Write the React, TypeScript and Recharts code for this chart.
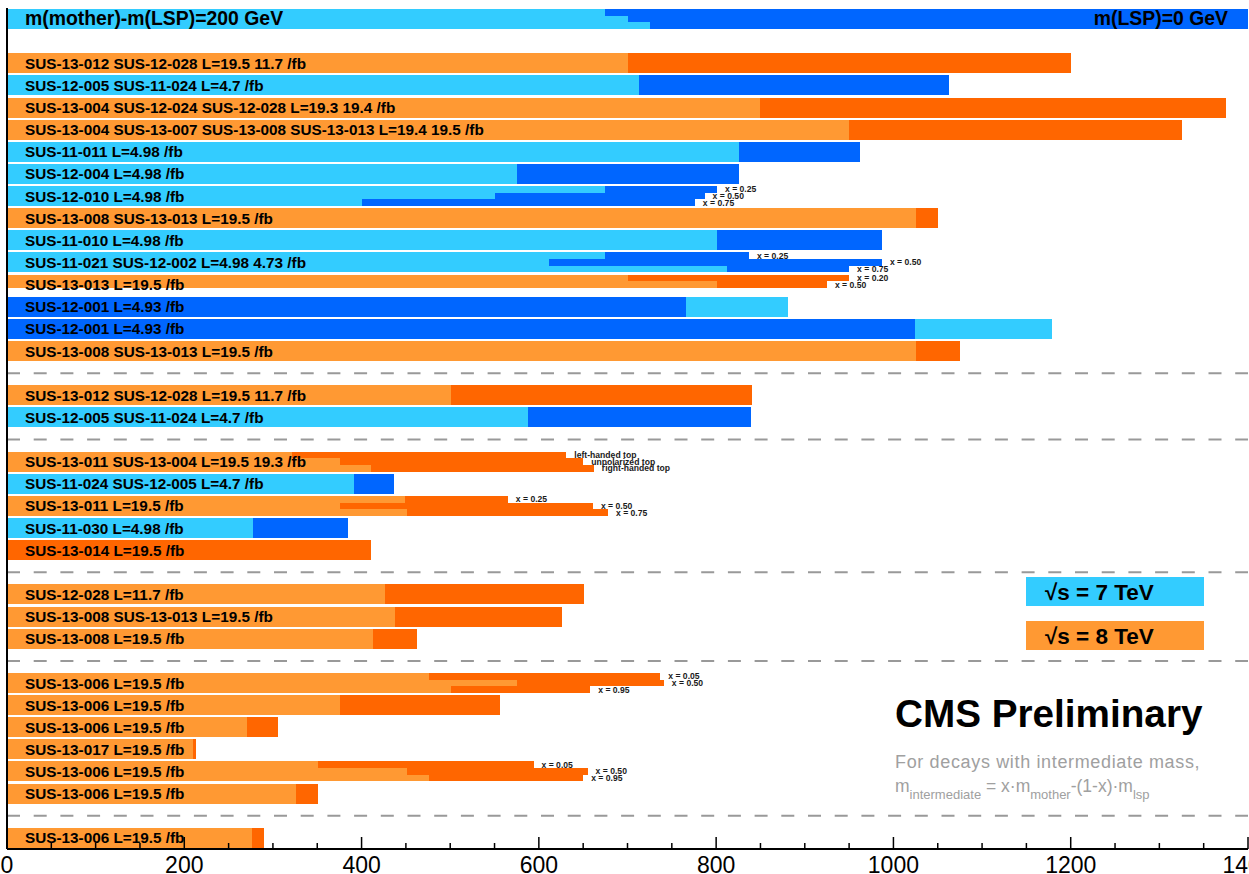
import React from 'react';
import { BarChart, Bar, XAxis, YAxis, ReferenceLine } from 'recharts';

const FONT = '"Liberation Sans", Arial, Helvetica, sans-serif';

// 38 rows, top to bottom ('' = blank / separator row)
const rowLabels: string[] = [
  'm(mother)-m(LSP)=200 GeV',
  '',
  'SUS-13-012 SUS-12-028 L=19.5 11.7 /fb',
  'SUS-12-005 SUS-11-024 L=4.7 /fb',
  'SUS-13-004 SUS-12-024 SUS-12-028 L=19.3 19.4 /fb',
  'SUS-13-004 SUS-13-007 SUS-13-008 SUS-13-013 L=19.4 19.5 /fb',
  'SUS-11-011 L=4.98 /fb',
  'SUS-12-004 L=4.98 /fb',
  'SUS-12-010 L=4.98 /fb',
  'SUS-13-008 SUS-13-013 L=19.5 /fb',
  'SUS-11-010 L=4.98 /fb',
  'SUS-11-021 SUS-12-002 L=4.98 4.73 /fb',
  'SUS-13-013 L=19.5 /fb',
  'SUS-12-001 L=4.93 /fb',
  'SUS-12-001 L=4.93 /fb',
  'SUS-13-008 SUS-13-013 L=19.5 /fb',
  '',
  'SUS-13-012 SUS-12-028 L=19.5 11.7 /fb',
  'SUS-12-005 SUS-11-024 L=4.7 /fb',
  '',
  'SUS-13-011 SUS-13-004 L=19.5 19.3 /fb',
  'SUS-11-024 SUS-12-005 L=4.7 /fb',
  'SUS-13-011 L=19.5 /fb',
  'SUS-11-030 L=4.98 /fb',
  'SUS-13-014 L=19.5 /fb',
  '',
  'SUS-12-028 L=11.7 /fb',
  'SUS-13-008 SUS-13-013 L=19.5 /fb',
  'SUS-13-008 L=19.5 /fb',
  '',
  'SUS-13-006 L=19.5 /fb',
  'SUS-13-006 L=19.5 /fb',
  'SUS-13-006 L=19.5 /fb',
  'SUS-13-017 L=19.5 /fb',
  'SUS-13-006 L=19.5 /fb',
  'SUS-13-006 L=19.5 /fb',
  '',
  'SUS-13-006 L=19.5 /fb',
];

// centre-of-mass energy (TeV) of each row, 0 = no bar
const rowEnergy: number[] = [
  7, 0, 8, 7, 8, 8, 7, 7, 7, 8, 7, 7, 8, 7, 7, 8, 0, 8, 7, 0,
  8, 7, 8, 7, 8, 0, 8, 8, 8, 0, 8, 8, 8, 8, 8, 8, 0, 8,
];

// mass limits (GeV) for m(mother)-m(LSP)=200 GeV, one entry per sub-row
const limitDM200: number[][] = [
  [675, 700, 725], [], [700], [713], [850], [950], [826], [575],
  [675, 550, 400], [1025], [801], [675, 612, 812], [700, 801, NaN],
  [881], [1179], [1025], [], [501], [588], [],
  [321, 376, 411], [391], [449, 376, 451], [277], [0], [],
  [426], [438], [413], [],
  [476, 575, 501], [376], [271], [210], [351, 451, 476], [326], [], [276],
];

// mass limits (GeV) for m(LSP)=0 GeV, one entry per sub-row
const limitLSP0: number[][] = [
  [1400, 1400, 1400], [], [1200], [1063], [1375], [1325], [962], [826],
  [801, 787, 776], [1050], [987], [837, 987, 950], [950, 925, NaN],
  [766], [1024], [1075], [], [840], [839], [],
  [631, 650, 662], [437], [565, 661, 678], [385], [411], [],
  [651], [626], [462], [],
  [737, 741, 658], [556], [306], [213], [594, 655, 650], [351], [], [290],
];

const subRowTags: Record<number, string[]> = {
  8: ['x = 0.25', 'x = 0.50', 'x = 0.75'],
  11: ['x = 0.25', 'x = 0.50', 'x = 0.75'],
  12: ['x = 0.20', 'x = 0.50', ''],
  20: ['left-handed top', 'unpolarized top', 'right-handed top'],
  22: ['x = 0.25', 'x = 0.50', 'x = 0.75'],
  30: ['x = 0.05', 'x = 0.50', 'x = 0.95'],
  34: ['x = 0.05', 'x = 0.50', 'x = 0.95'],
};

const headerRightLabel = 'm(LSP)=0 GeV';
const separatorRows = ['16', '19', '25', '29', '36'];

const xTicks = [
  0, 50, 100, 150, 200, 250, 300, 350, 400, 450, 500, 550, 600, 650, 700,
  750, 800, 850, 900, 950, 1000, 1050, 1100, 1150, 1200, 1250, 1300, 1350, 1400,
];
const xTickLabels: Record<number, string> = {
  0: '0', 200: '200', 400: '400', 600: '600', 800: '800', 1000: '1000', 1200: '1200', 1400: '1400',
};

const legendLabels = ['s = 7 TeV', 's = 8 TeV'];
const legendEnergies = [7, 8];

const COLORS: Record<number, { light: string; dark: string }> = {
  7: { light: '#33CCFF', dark: '#0066FF' },
  8: { light: '#FF9933', dark: '#FF6600' },
  0: { light: '#FFFFFF', dark: '#FFFFFF' },
};

type Box = { lo: number; hi: number; color: string; sub: number; nsub: number; tag: string; right: string };

const rows = rowLabels.map((label, i) => {
  const c = COLORS[rowEnergy[i]];
  const a = limitDM200[i];
  const b = limitLSP0[i];
  const n = a.length;
  const boxes: Box[] = [];
  for (let s = 0; s < n; s++) {
    const l = a[s];
    const d = b[s];
    if (!Number.isFinite(l) || !Number.isFinite(d)) {
      boxes.push({ lo: 0, hi: 0, color: c.light, sub: s, nsub: n, tag: '', right: '' });
      boxes.push({ lo: 0, hi: 0, color: c.dark, sub: s, nsub: n, tag: '', right: '' });
      continue;
    }
    const lightSmaller = l <= d;
    const small = Math.min(l, d);
    const big = Math.max(l, d);
    boxes.push({ lo: 0, hi: small, color: lightSmaller ? c.light : c.dark, sub: s, nsub: n, tag: '', right: '' });
    boxes.push({
      lo: small,
      hi: big,
      color: lightSmaller ? c.dark : c.light,
      sub: s,
      nsub: n,
      tag: (subRowTags[i] && subRowTags[i][s]) || '',
      right: i === 0 && s === n - 1 ? headerRightLabel : '',
    });
  }
  return { key: String(i), label, boxes };
});

const BoxShape = (props: any) => {
  const { x, y, width, height, boxIndex } = props;
  const payload = props.payload && props.payload.boxes ? props.payload : rows[props.index];
  const box: Box | undefined = payload && payload.boxes[boxIndex];
  if (!box || !(width > 0)) return <g />;
  const h = height / box.nsub;
  const y0 = y + box.sub * h;
  return (
    <g>
      <rect x={x} y={y0} width={width} height={h} fill={box.color} shapeRendering="crispEdges" />
      {box.tag ? (
        <text x={x + width + 8} y={y0 + h / 2 + 3} fontSize={8.6} fontWeight="bold" fontFamily={FONT} fill="#1a1a1a">
          {box.tag}
        </text>
      ) : null}
      {box.right ? (
        <text x={x + width - 20} y={y + height / 2 + 6} fontSize={19.4} fontWeight="bold" fontFamily={FONT} fill="#000" textAnchor="end">
          {box.right}
        </text>
      ) : null}
    </g>
  );
};

const RowLabelTick = (props: any) => {
  const { x, y, payload } = props;
  const i = Number(payload.value);
  const text = rowLabels[i];
  if (!text) return <g />;
  const header = i === 0;
  return (
    <text x={x + 18} y={y + (header ? 6 : 5.5)} fontSize={header ? 19.4 : 15.3} fontWeight="bold" fontFamily={FONT} fill="#000" textAnchor="start">
      {text}
    </text>
  );
};

const XTick = (props: any) => {
  const { x, y, payload } = props;
  const v = payload.value;
  const label = xTickLabels[v];
  const major = label !== undefined;
  return (
    <g>
      <line x1={x} x2={x} y1={y} y2={y - (major ? 12 : 6)} stroke="#000" strokeWidth={1.5} />
      {major ? (
        <text x={x} y={y + 24} textAnchor="middle" fontSize={23} fontFamily={FONT} fill="#000">
          {label}
        </text>
      ) : null}
    </g>
  );
};

const BOX_COUNT = 6;

export default function App() {
  return (
    <div style={{ position: 'absolute', left: 0, top: 0, width: 1249, height: 874, background: '#fff' }}>
      <BarChart
        width={1249}
        height={874}
        data={rows}
        layout="vertical"
        margin={{ top: 8, right: 1, bottom: 0, left: 7 }}
        barGap={-20}
      >
        <XAxis
          type="number"
          domain={[0, 1400]}
          ticks={xTicks}
          interval={0}
          height={25}
          tickSize={0}
          tickMargin={0}
          tickLine={false}
          axisLine={{ stroke: '#000', strokeWidth: 2 }}
          tick={(p: any) => <XTick {...p} />}
          allowDataOverflow
        />
        <XAxis
          xAxisId="top"
          orientation="top"
          type="number"
          domain={[0, 1400]}
          height={0}
          tick={false}
          tickLine={false}
          axisLine={{ stroke: '#000', strokeWidth: 1.5 }}
        />
        {Array.from({ length: BOX_COUNT }).map((_, i) => (
          <Bar
            key={i}
            dataKey={(d: any) => (d.boxes[i] ? [d.boxes[i].lo, d.boxes[i].hi] : [0, 0])}
            barSize={20}
            isAnimationActive={false}
            shape={(p: any) => <BoxShape {...p} boxIndex={i} />}
          />
        ))}
        {separatorRows.map((s) => (
          <ReferenceLine key={s} y={s} stroke="#999999" strokeWidth={2} strokeDasharray="13 13.7" ifOverflow="visible" />
        ))}
        <YAxis
          type="category"
          dataKey="key"
          mirror
          width={1}
          interval={0}
          tickSize={0}
          tickMargin={0}
          tickLine={false}
          axisLine={{ stroke: '#000', strokeWidth: 2 }}
          tick={(p: any) => <RowLabelTick {...p} />}
        />
        <YAxis
          yAxisId="right"
          orientation="right"
          type="category"
          dataKey="key"
          width={0}
          tick={false}
          tickLine={false}
          axisLine={{ stroke: '#000', strokeWidth: 2 }}
        />
      </BarChart>
      <svg
        width={1249}
        height={874}
        style={{ position: 'absolute', left: 0, top: 0, pointerEvents: 'none' }}
      >
        {legendLabels.map((lab, k) => (
          <g key={lab}>
            <rect x={1026} y={577 + k * 44} width={178} height={29} fill={COLORS[legendEnergies[k]].light} />
            <text x={1045} y={600 + k * 44} fontSize={22.5} fontWeight="bold" fontFamily={FONT} fill="#000">
              {'\u221A' + lab}
            </text>
          </g>
        ))}
        <text x={895} y={727} fontSize={38.7} fontWeight="bold" fontFamily={FONT} fill="#000">
          CMS Preliminary
        </text>
        <text x={895} y={768} fontSize={18} letterSpacing={0.65} fontFamily={FONT} fill="#a0a0a0">
          For decays with intermediate mass,
        </text>
        <text x={895} y={792} fontSize={17.5} fontFamily={FONT} fill="#a0a0a0">
          m<tspan fontSize={13} dy={7}>intermediate</tspan>
          <tspan dy={-7}> = x·m</tspan>
          <tspan fontSize={13} dy={7}>mother</tspan>
          <tspan dy={-7}>-(1-x)·m</tspan>
          <tspan fontSize={13} dy={7}>lsp</tspan>
        </text>
      </svg>
    </div>
  );
}
